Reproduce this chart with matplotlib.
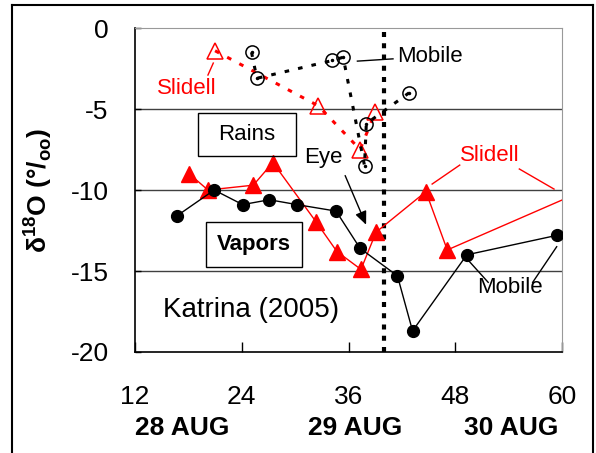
import matplotlib.pyplot as plt
from matplotlib.lines import Line2D
from matplotlib.patches import Rectangle

plt.rcParams['font.family'] = ['Liberation Sans', 'DejaVu Sans']
plt.rcParams['mathtext.fontset'] = 'custom'
plt.rcParams['mathtext.rm'] = 'Liberation Sans'
plt.rcParams['mathtext.bf'] = 'Liberation Sans:bold'
plt.rcParams['axes.unicode_minus'] = False

# Vapors (filled)
mobile_vap_x = [16.7, 20.9, 24.1, 27.1, 30.2, 34.6, 37.3, 41.5, 43.2, 49.3, 59.4]
mobile_vap_y = [-11.6, -10.0, -10.9, -10.6, -10.9, -11.3, -13.6, -15.3, -18.7, -14.0, -12.8]
slidell_vap_x = [18.1, 20.2, 25.3, 27.5, 32.4, 34.7, 37.4, 39.1, 44.7, 47.1, 63.0]
slidell_vap_y = [-9.0, -10.0, -9.7, -8.3, -12.0, -13.8, -14.9, -12.6, -10.1, -13.7, -9.9]

# Rains (open)
mobile_rain_x = [25.1, 25.7, 34.2, 35.4, 37.8, 38.0, 42.8]
mobile_rain_y = [-1.5, -3.1, -2.0, -1.8, -8.5, -5.9, -4.0]
slidell_rain_x = [21.0, 32.6, 37.3, 39.0]
slidell_rain_y = [-1.4, -4.8, -7.5, -5.2]

eye_x = 40
xticks = [12, 24, 36, 48, 60]
yticks = [0, -5, -10, -15, -20]
days = ["28 AUG", "29 AUG", "30 AUG"]
day_x = [17.3, 36.7, 54.3]

fig = plt.figure(figsize=(5.96, 4.53), dpi=100)
ax = fig.add_axes([0.2265, 0.223, 0.7165, 0.715])

for yv in [-5, -10, -15]:
    ax.axhline(yv, color='#404040', lw=1.0, zorder=1)

ax.axvline(eye_x, color='black', lw=3, linestyle=(0, (1.2, 1.5)), zorder=2)

ax.plot(mobile_vap_x, mobile_vap_y, color='black', lw=1, marker='o',
        ms=8.5, mfc='black', mec='black', zorder=4, clip_on=True)
ax.plot(slidell_vap_x, slidell_vap_y, color='red', lw=1, marker='^',
        ms=11, mfc='red', mec='red', zorder=3)

ax.plot(mobile_rain_x, mobile_rain_y, color='black', lw=2.2,
        linestyle=(0, (1.5, 3)), marker='o', ms=9.5, mfc='none',
        mec='black', mew=1.1, zorder=4)
ax.plot(mobile_rain_x, mobile_rain_y, linestyle='none', marker='.',
        ms=3, color='black', zorder=5)
ax.plot(slidell_rain_x, slidell_rain_y, color='red', lw=2.2,
        linestyle=(0, (1.5, 3)), marker='^', ms=11, mfc='none',
        mec='red', mew=1.1, zorder=3)

ax.set_xlim(12, 60)
ax.set_ylim(-20, 0)
ax.set_xticks(xticks)
ax.set_yticks(yticks)
ax.tick_params(axis='x', direction='in', length=7, width=1, pad=24, labelsize=19)
ax.tick_params(axis='y', direction='in', length=4, width=1, pad=19, labelsize=19)
for s in ['top', 'right']:
    ax.spines[s].set_color('#999999')
for s in ['left', 'bottom']:
    ax.spines[s].set_linewidth(1.2)

ax.set_ylabel(r'δ$^{\mathbf{18}}$O (°/$_{\mathbf{oo}}$)', fontsize=19,
              fontweight='bold')
ax.yaxis.set_label_coords(-0.19, 0.5)

for dx, lab in zip(day_x, days):
    ax.text(dx, -24.7, lab, ha='center', va='center', fontsize=19,
            fontweight='bold', clip_on=False)

# labels and leaders
ax.text(17.85, -3.7, "Slidell", color='red', fontsize=16, ha='center', va='center')
ax.plot([20.8, 20.2], [-2.16, -2.9], color='red', lw=1)
ax.text(45.2, -1.73, "Mobile", color='black', fontsize=16, ha='center', va='center')
ax.plot([37.0, 41.0], [-2.04, -1.9], color='black', lw=1)

ax.text(51.9, -7.84, "Slidell", color='red', fontsize=16, ha='center', va='center')
ax.plot([48.5, 45.4], [-8.46, -9.63], color='red', lw=1)
ax.plot([55.2, 59.1], [-8.7, -9.94], color='red', lw=1)

ax.text(54.2, -16.0, "Mobile", color='black', fontsize=16, ha='center', va='center')
ax.plot([49.4, 51.7], [-14.3, -15.7], color='black', lw=1)
ax.plot([56.7, 59.4], [-15.7, -13.5], color='black', lw=1)

ax.text(33.2, -8.0, "Eye", fontsize=16, ha='center', va='center')
ax.annotate("", xy=(38.1, -12.3), xytext=(35.5, -8.95),
            arrowprops=dict(arrowstyle='-|>,head_length=0.8,head_width=0.35',
                            color='black', lw=1))

ax.add_patch(Rectangle((19.1, -7.9), 11.0, 2.65, fill=False, ec='black', lw=1, zorder=6))
ax.text(24.6, -6.55, "Rains", fontsize=16, ha='center', va='center')
ax.add_patch(Rectangle((20.0, -14.75), 10.8, 2.75, facecolor='white', ec='black', lw=1, zorder=6))
ax.text(25.4, -13.35, "Vapors", fontsize=16, fontweight='bold', ha='center', va='center', zorder=7)

ax.text(25.0, -17.4, "Katrina (2005)", fontsize=20, ha='center', va='center')

# outer frame
W, H = 596, 453
for (x0, y0, x1, y1) in [(12, 5, 593, 5), (12, 5, 12, 453), (593, 5, 593, 453)]:
    fig.add_artist(Line2D([x0 / W, x1 / W], [1 - y0 / H, 1 - y1 / H],
                          color='black', lw=1.5, transform=fig.transFigure))

fig.savefig("out.png", dpi=100)
